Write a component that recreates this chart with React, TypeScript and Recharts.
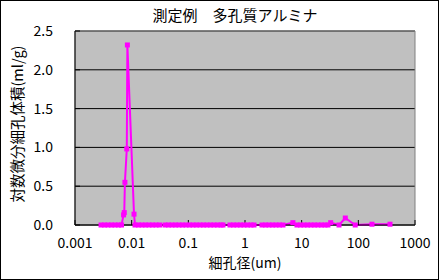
import React from "react";
import {
  LineChart,
  Line,
  XAxis,
  YAxis,
  CartesianGrid,
  ReferenceArea,
  Label,
} from "recharts";

// pore diameter (um)
const diameters = [
  0.00288, 0.00332, 0.00382, 0.00441, 0.00508, 0.00586, 0.00662,
  0.0072, 0.0074, 0.0076, 0.0082, 0.0084, 0.011,
  0.01146, 0.0132, 0.0152, 0.0175, 0.0202, 0.0233, 0.0269, 0.031,
  0.0387, 0.0447, 0.0515, 0.0593, 0.0684, 0.0789, 0.091, 0.105, 0.121, 0.139,
  0.161, 0.185, 0.213, 0.246, 0.284, 0.327, 0.377, 0.409,
  0.543, 0.627, 0.722, 0.832, 0.959, 1.106, 1.276, 1.442,
  1.995, 2.3, 2.65, 3.06, 3.52, 4.06, 4.68,
  7.0,
  8.26, 9.52, 10.98, 12.67, 14.6, 16.8, 19.4, 22.4, 25.8, 29.1,
  32.5, 45.6, 58.9, 88, 174, 362,
];
// log differential pore volume (ml/g)
const volumes = [
  0, 0, 0, 0, 0, 0, 0,
  0.13, 0.16, 0.55, 0.98, 2.32, 0.14,
  0, 0, 0, 0, 0, 0, 0, 0,
  0, 0, 0, 0, 0, 0, 0, 0, 0, 0,
  0, 0, 0, 0, 0, 0, 0, 0,
  0, 0, 0, 0, 0, 0, 0, 0,
  0, 0, 0, 0, 0, 0, 0,
  0.03,
  0, 0, 0, 0, 0, 0, 0, 0, 0, 0,
  0.03, 0, 0.09, 0, 0.01, 0.01,
];
const xTicks = [0.001, 0.01, 0.1, 1, 10, 100, 1000];
const xTickLabels = ["0.001", "0.01", "0.1", "1", "10", "100", "1000"];
const yTicks = [0, 0.5, 1.0, 1.5, 2.0, 2.5];

const title = "測定例\u3000多孔質アルミナ";
const xTitle = "細孔径(um)";
const yTitle = "対数微分細孔体積(ml/g)";

const data = diameters.map((d, i) => ({ d, v: volumes[i] }));

const COLOR = "#FF00FF";
const FONT = "'Noto Sans CJK JP', 'Noto Sans', sans-serif";

const SquareDot = (props: any) => {
  const { cx, cy } = props;
  if (cx == null || cy == null) return null;
  return <rect x={cx - 2.5} y={cy - 2.5} width={5} height={5} fill={COLOR} stroke="none" />;
};

export default function App() {
  return (
    <div style={{ position: "absolute", left: 0, top: 0, width: 440, height: 280, background: "#fff" }}>
      <LineChart
        width={440}
        height={280}
        data={data}
        margin={{ top: 31, right: 25, bottom: 25, left: 0 }}
      >
        <CartesianGrid vertical={false} stroke="#000" fill="#C0C0C0" fillOpacity={1} />
        <ReferenceArea
          x1={0.001}
          x2={1000}
          y1={0}
          y2={2.5}
          fill="none"
          stroke="#808080"
          strokeWidth={1}
          ifOverflow="visible"
        />
        <XAxis
          dataKey="d"
          type="number"
          scale="log"
          domain={[0.001, 1000]}
          ticks={xTicks}
          tickFormatter={(v: number) => xTickLabels[xTicks.indexOf(v)] ?? String(v)}
          allowDataOverflow
          height={30}
          stroke="#000"
          tickSize={-5}
          tickMargin={18}
          tick={{ fill: "#000", fontSize: 14, fontFamily: FONT }}
          interval={0}
        >
          <Label
            content={() => (
              <text x={245} y={268} textAnchor="middle" fontSize={14} fontFamily={FONT} fill="#000">
                {xTitle}
              </text>
            )}
          />
        </XAxis>
        <YAxis
          type="number"
          domain={[0, 2.5]}
          ticks={yTicks}
          width={75}
          stroke="#000"
          tickSize={-5}
          tickMargin={27}
          tickFormatter={(v: number) => v.toFixed(1)}
          tick={{ fill: "#000", fontSize: 14, fontFamily: FONT }}
          interval={0}
        >
          <Label
            content={() => (
              <text
                x={16}
                y={124}
                textAnchor="middle"
                dominantBaseline="central"
                fontSize={14.5}
                fontFamily={FONT}
                fill="#000"
                transform="rotate(-90 16 124)"
              >
                {yTitle}
              </text>
            )}
          />
        </YAxis>
        <Line
          type="linear"
          dataKey="v"
          stroke={COLOR}
          strokeWidth={2}
          dot={<SquareDot />}
          activeDot={false}
          isAnimationActive={false}
        />
      </LineChart>
      <div
        style={{
          position: "absolute",
          left: 0,
          top: 5,
          width: 470,
          textAlign: "center",
          fontFamily: FONT,
          fontSize: 15,
          color: "#000",
          lineHeight: "20px",
          whiteSpace: "pre",
        }}
      >
        {title}
      </div>
      <div
        style={{
          position: "absolute",
          left: 0,
          top: 0,
          width: 439,
          height: 280,
          boxSizing: "border-box",
          border: "1px solid #000",
          pointerEvents: "none",
        }}
      />
    </div>
  );
}
